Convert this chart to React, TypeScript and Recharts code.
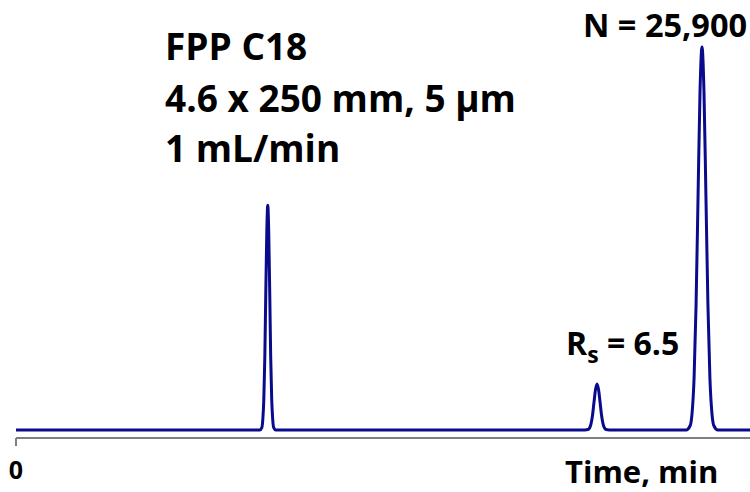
import React from "react";
import { LineChart, Line, XAxis, YAxis } from "recharts";

// retention time (min) and detector signal (% of largest peak)
const peak1Time = [3.322, 3.349, 3.362, 3.376, 3.39, 3.403, 3.417, 3.43, 3.443, 3.457, 3.47, 3.484, 3.498, 3.511, 3.538];
const peak1Signal = [0, 0.6, 2.6, 7.9, 19.1, 35.6, 51.8, 58.7, 51.8, 35.6, 19.1, 7.9, 2.6, 0.6, 0];

const peak2Time = [7.752, 7.793, 7.814, 7.834, 7.855, 7.875, 7.896, 7.916, 7.936, 7.957, 7.977, 7.998, 8.018, 8.039, 8.08];
const peak2Signal = [0, 0.1, 0.5, 1.6, 3.9, 7.3, 10.6, 12.0, 10.6, 7.3, 3.9, 1.6, 0.5, 0.1, 0];

const peak3Time = [9.13, 9.184, 9.211, 9.238, 9.265, 9.292, 9.319, 9.346, 9.373, 9.4, 9.427, 9.454, 9.481, 9.508, 9.562];
const peak3Signal = [0, 1.1, 4.4, 13.5, 32.5, 60.7, 88.3, 100, 88.3, 60.7, 32.5, 13.5, 4.4, 1.1, 0];

const runStart = 0;
const runEnd = 10;
const xTicks = [0];

const toPoints = (ts: number[], vs: number[]) => ts.map((t, i) => ({ t, v: vs[i] }));

const data = [
  { t: runStart, v: 0 },
  ...toPoints(peak1Time, peak1Signal),
  ...toPoints(peak2Time, peak2Signal),
  ...toPoints(peak3Time, peak3Signal),
  { t: runEnd, v: 0 },
];

const font = "'Open Sans', sans-serif";

const TimeTick = (props: any) => {
  const { x, y, payload } = props;
  return (
    <text x={x} y={y + 18} textAnchor="middle" fontFamily={font} fontWeight={700} fontSize={25} fill="#000">
      {payload.value}
    </text>
  );
};

const App = () => (
  <div style={{ position: "absolute", left: 0, top: 0, width: 750, height: 492, background: "#fff" }}>
    <LineChart width={750} height={492} data={data} margin={{ top: 47, right: 0, left: 16, bottom: 0 }}>
      <XAxis
        dataKey="t"
        type="number"
        domain={[runStart, runEnd]}
        ticks={xTicks}
        height={54}
        tickSize={8}
        tickMargin={15}
        axisLine={{ stroke: "#7f7f7f", strokeWidth: 2 }}
        tickLine={{ stroke: "#7f7f7f", strokeWidth: 2 }}
        tick={<TimeTick />}
      />
      <YAxis hide domain={[-2.1, 100]} />
      <Line
        type="monotone"
        dataKey="v"
        stroke="#0a0a8c"
        strokeWidth={3}
        dot={false}
        isAnimationActive={false}
      />
      <text x={565} y={483} fontFamily={font} fontWeight={700} fontSize={31} fill="#000">
        Time, min
      </text>
      <text fontFamily={font} fontWeight={700} fontSize={37} fill="#000">
        <tspan x={165} y={60}>FPP C18</tspan>
        <tspan x={165} y={112}>4.6 x 250 mm, 5 µm</tspan>
        <tspan x={165} y={162}>1 mL/min</tspan>
      </text>
      <text x={583} y={37} fontFamily={font} fontWeight={700} fontSize={32.5} fill="#000">
        N = 25,900
      </text>
      <text x={566} y={355} fontFamily={font} fontWeight={700} fontSize={32} fill="#000">
        R<tspan fontSize={23} dy={8}>s</tspan>
        <tspan dy={-8}> = 6.5</tspan>
      </text>
    </LineChart>
  </div>
);

export default App;
